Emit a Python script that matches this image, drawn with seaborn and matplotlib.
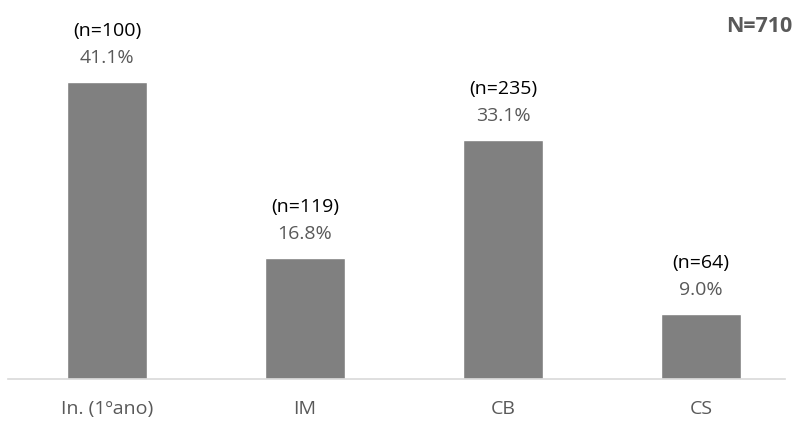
import matplotlib
matplotlib.use("Agg")
import matplotlib.pyplot as plt
import seaborn as sns
import pandas as pd

categories = ["In. (1ºano)", "IM", "CB", "CS"]
percentages = [41.1, 16.8, 33.1, 9.0]
counts = [100, 119, 235, 64]
total_label = "N=710"

sns.set_theme(style="white")
plt.rcParams['font.family'] = ['Open Sans', 'DejaVu Sans']

df = pd.DataFrame({"cat": categories, "pct": percentages, "n": counts})

fig = plt.figure(figsize=(7.96, 4.21), dpi=100)
ax = fig.add_axes([8/796, (421-379)/421, 792/796, 379/421])

sns.barplot(data=df, x="cat", y="pct", color="#808080", saturation=1,
            width=80/198, ax=ax)

ax.set_xlim(-0.5, 3.5)
ax.set_ylim(0, 52.45)
ax.set_xlabel("")
ax.set_ylabel("")
ax.set_yticks([])
for s in ["left", "right", "top"]:
    ax.spines[s].set_visible(False)
ax.spines["bottom"].set_color("#d9d9d9")
ax.spines["bottom"].set_linewidth(1.2)
ax.spines["bottom"].set_bounds(-0.5, 3.5 - 15/198)
ax.tick_params(axis="x", length=0, pad=30 * 72 / 100, labelsize=14,
               labelcolor="#595959")
for lbl in ax.get_xticklabels():
    lbl.set_va("center")

for i, (p, n) in enumerate(zip(percentages, counts)):
    ax.annotate(f"{p:.1f}%", (i, p), xytext=(0, 24), textcoords="offset pixels",
                ha="center", va="center", fontsize=14, color="#595959")
    ax.annotate(f"(n={n})", (i, p), xytext=(0, 51), textcoords="offset pixels",
                ha="center", va="center", fontsize=14, color="#000000")

fig.text(792/796, 1 - 26/421, total_label, ha="right", va="center",
         fontsize=15.5, fontweight="bold", color="#595959")

fig.savefig("out.png", dpi=100)
